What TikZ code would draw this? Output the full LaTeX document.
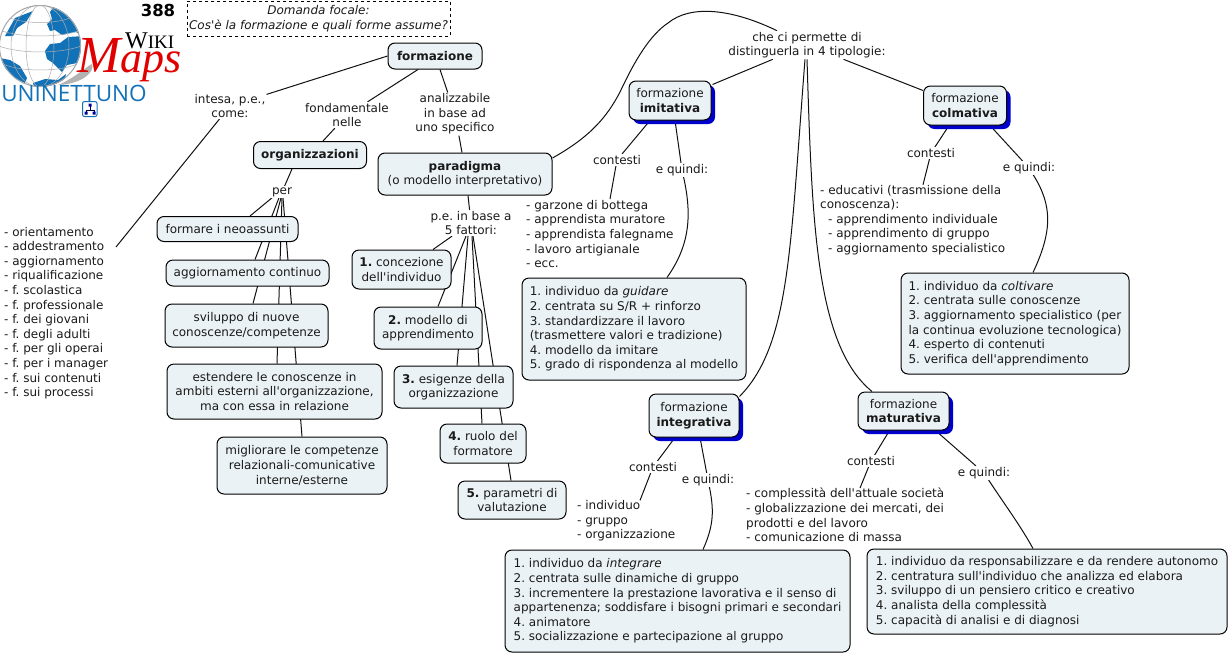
\documentclass[tikz,border=0pt]{standalone}
\usepackage{fontspec}
\setmainfont{DejaVu Sans}[Ligatures=TeXOff]
\newfontfamily\serifw{Liberation Serif}
\newfontfamily\logosans{Open Sans}
\usetikzlibrary{backgrounds,shadows}
\definecolor{boxfill}{HTML}{EBF2F5}
\definecolor{shblue}{HTML}{0000CC}
\definecolor{linkc}{HTML}{111111}
\definecolor{logoblue}{HTML}{1272B8}
\definecolor{txtc}{HTML}{1A1A1A}
\tikzset{
 every node/.style={font=\fontsize{12}{14.6}\selectfont\frenchspacing, text=txtc},
 box/.style={draw=black, line width=1pt, rounded corners=7pt, fill=boxfill, align=center, inner sep=0pt},
 lbox/.style={draw=black, line width=1pt, rounded corners=7pt, fill=boxfill, align=left, inner sep=0pt},
 tipo/.style={box, general shadow={shadow xshift=4pt, shadow yshift=-4pt, fill=shblue}},
 lab/.style={fill=white, align=center, inner sep=1pt},
 plain/.style={align=left, inner sep=0pt, anchor=west},
 link/.style={draw=linkc, line width=1pt},
}
\begin{document}
\begin{tikzpicture}[x=1pt,y=-1pt]
\useasboundingbox (0,0) rectangle (1230,654);
\begin{scope}[on background layer]
\fill[white] (0,0) rectangle (1230,654);
\end{scope}
% logo
\fill[gray!60] (58,85) .. controls (75,78) and (84,68) .. (92,64) .. controls (95,72) and (82,84) .. (58,85) -- cycle;
\begin{scope}
\clip (40,46) circle (41);
\fill[white] (0,0) rectangle (90,95);
\begin{scope}[logoblue, line join=round]
\fill (5,36) -- (15,18) -- (33,11) -- (26,22) -- (17,28) -- (13,36) -- cycle;
\fill (55,5) -- (72,12) -- (84,30) -- (84,36) -- (76,32) -- (70,33) -- (62,35) -- (55,30) -- (50,31) -- (47,24) -- (52,19) -- (50,12) -- cycle;
\fill (45,51) -- (50,44) -- (60,43) -- (68,37) -- (84,36) -- (84,58) -- (77,63) -- (67,65) -- (62,72) -- (53,63) -- (47,59) -- cycle;
\fill (0,58) -- (10,60) -- (20,66) -- (27,78) -- (25,83) -- (15,78) -- (5,68) -- cycle;
\fill (33,83) -- (45,79) -- (58,80) -- (66,74) -- (62,90) -- (35,90) -- cycle;
\end{scope}
\begin{scope}[gray!65, line width=.5pt]
\draw (40,46) ellipse (14 and 41);
\draw (40,46) ellipse (29 and 41);
\draw (-1,30) .. controls (20,38) and (60,38) .. (81,30);
\draw (-1,46) .. controls (20,54) and (60,54) .. (81,46);
\draw (3,64) .. controls (20,72) and (60,72) .. (77,64);
\draw (10,18) .. controls (25,24) and (55,24) .. (70,18);
\end{scope}
\end{scope}
\draw[gray!70, line width=1pt] (40,46) circle (40.5);
\node[inner sep=0pt, anchor=base west, text=red!88!black, font=\serifw\itshape\fontsize{52}{52}\selectfont] (maps) at (77,72) {M\fontsize{44}{44}\selectfont aps};
\node[inner sep=0pt, anchor=base west, text=black, font=\serifw\fontsize{24}{24}\selectfont] (wiki) at (125,48.5) {W\fontsize{19}{19}\selectfont IKI};
\node[inner sep=0pt, text=logoblue, font=\logosans\fontsize{22.5}{24}\selectfont] (uni) at (74,93.5) {UNINETTUNO};
\draw[logoblue, fill=white, rounded corners=2pt, line width=1pt] (82.5,101.5) rectangle (97,116.5);
\draw[black!70!blue, line width=.8pt] (90,105) -- (90,110) (86,113) -- (86,110) -- (94,110) -- (94,113);
\fill[black!40!blue] (88.5,103.5) rectangle (91.5,106.5) (84.5,111.5) rectangle (87.5,114.5) (92.5,111.5) rectangle (95.5,114.5);
% header
\node[inner sep=0pt, text=black, font=\bfseries\fontsize{16.5}{18}\selectfont] (num) at (158,10) {388};
\node[draw=black, dashed, line width=.8pt, minimum width=263pt, minimum height=35pt, inner sep=0pt, align=center, font=\itshape\fontsize{12}{14.6}\selectfont] (focal) at (318.5,18.5) {Domanda focale:\\Cos'è la formazione e quali forme assume?};
% main nodes
\node[box, minimum width=94pt, minimum height=26pt] (formazione) at (435,56) {\textbf{formazione}};
\node[lab] (intesa) at (230,106) {intesa, p.e.,\\come:};
\node[lab] (fond) at (347,115) {fondamentale\\nelle};
\node[lab] (anal) at (455,114) {analizzabile\\in base ad\\uno specifico};
\node[box, minimum width=113pt, minimum height=27pt] (org) at (310,155) {\textbf{organizzazioni}};
\node[box, minimum width=174pt, minimum height=42pt] (par) at (465,174) {\textbf{paradigma}\\(o modello interpretativo)};
\node[lab] (per) at (282,192) {per};
\node[plain] (lista) at (4,313) {- orientamento\\- addestramento\\- aggiornamento\\- riqualificazione\\- f. scolastica\\- f. professionale\\- f. dei giovani\\- f. degli adulti\\- f. per gli operai\\- f. per i manager\\- f. sui contenuti\\- f. sui processi};
\coordinate (listaend) at (116,247);
\node[box, minimum width=141pt, minimum height=25pt] (neo) at (227.5,229) {formare i neoassunti};
\node[box, minimum width=163pt, minimum height=26pt] (agg) at (247.5,273) {aggiornamento continuo};
\node[box, minimum width=163pt, minimum height=43pt] (svi) at (246.5,325.5) {sviluppo di nuove\\conoscenze/competenze};
\node[box, minimum width=215pt, minimum height=55pt] (est) at (274.5,391.5) {estendere le conoscenze in\\ambiti esterni all'organizzazione,\\ma con essa in relazione};
\node[box, minimum width=170pt, minimum height=57pt] (mig) at (302,465.5) {migliorare le competenze\\relazionali-comunicative\\interne/esterne};
\node[lab] (pe) at (471,223) {p.e. in base a\\5 fattori:};
\node[box, minimum width=99pt, minimum height=39pt] (f1) at (401.5,269.5) {\textbf{1.} concezione\\dell'individuo};
\node[box, minimum width=108pt, minimum height=42pt] (f2) at (428,328) {\textbf{2.} modello di\\apprendimento};
\node[box, minimum width=119pt, minimum height=42pt] (f3) at (453.5,387) {\textbf{3.} esigenze della\\organizzazione};
\node[box, minimum width=86pt, minimum height=39pt] (f4) at (483,443.5) {\textbf{4.} ruolo del\\formatore};
\node[box, minimum width=108pt, minimum height=38pt] (f5) at (512,500) {\textbf{5.} parametri di\\valutazione};
\node[lab] (che) at (807,45) {che ci permette di\\distinguerla in 4 tipologie:};
% imitativa
\node[tipo, minimum width=82pt, minimum height=39pt] (imi) at (670,100.5) {formazione\\\textbf{imitativa}};
\node[lab] (imic) at (617,160) {contesti};
\node[lab] (imiq) at (682,170) {e quindi:};
\node[plain] (imit) at (526,234) {- garzone di bottega\\- apprendista muratore\\- apprendista falegname\\- lavoro artigianale\\- ecc.};
\node[lbox, minimum width=224pt, minimum height=102pt] (imib) at (634,329) {1. individuo da \textit{guidare}\\2. centrata su S/R + rinforzo\\3. standardizzare il lavoro\\(trasmettere valori e tradizione)\\4. modello da imitare\\5. grado di rispondenza al modello};
% colmativa
\node[tipo, minimum width=83pt, minimum height=39pt] (col) at (965,105.5) {formazione\\\textbf{colmativa}};
\node[lab] (colc) at (931,153) {contesti};
\node[lab] (colq) at (1029,168) {e quindi:};
\node[plain] (colt) at (820,220) {- educativi (trasmissione della\\conoscenza):\\\hspace*{8pt}- apprendimento individuale\\\hspace*{8pt}- apprendimento di gruppo\\\hspace*{8pt}- aggiornamento specialistico};
\node[lbox, minimum width=228pt, minimum height=101pt] (colb) at (1015,323.5) {1. individuo da \textit{coltivare}\\2. centrata sulle conoscenze\\3. aggiornamento specialistico (per\\la continua evoluzione tecnologica)\\4. esperto di contenuti\\5. verifica dell'apprendimento};
% integrativa
\node[tipo, minimum width=90pt, minimum height=43pt] (int) at (694,415.5) {formazione\\\textbf{integrativa}};
\node[lab] (intc) at (653,467) {contesti};
\node[lab] (intq) at (708,480) {e quindi:};
\node[plain] (intt) at (577,521) {- individuo\\- gruppo\\- organizzazione};
\node[lbox, minimum width=345pt, minimum height=102pt] (intb) at (677.5,601) {1. individuo da \textit{integrare}\\2. centrata sulle dinamiche di gruppo\\3. incrementere la prestazione lavorativa e il senso di\\appartenenza; soddisfare i bisogni primari e secondari\\4. animatore\\5. socializzazione e partecipazione al gruppo};
% maturativa
\node[tipo, minimum width=91pt, minimum height=38pt] (mat) at (903.5,411) {formazione\\\textbf{maturativa}};
\node[lab] (matc) at (871,461) {contesti};
\node[lab] (matq) at (984,473) {e quindi:};
\node[plain] (matt) at (746,515) {- complessità dell'attuale società\\- globalizzazione dei mercati, dei\\prodotti e del lavoro\\- comunicazione di massa};
\node[lbox, minimum width=360pt, minimum height=85pt] (matb) at (1047,591.5) {1. individuo da responsabilizzare e da rendere autonomo\\2. centratura sull'individuo che analizza ed elabora\\3. sviluppo di un pensiero critico e creativo\\4. analista della complessità\\5. capacità di analisi e di diagnosi};
% connectors
\begin{scope}[on background layer]
\draw[link] (formazione.west) -- (intesa);
\draw[link] ([xshift=-17pt]formazione.south) -- (fond);
\draw[link] ([xshift=5pt]formazione.south) -- (anal);
\draw[link] (fond) -- ([xshift=13pt]org.north);
\draw[link] (anal) -- ([xshift=-3pt]par.north);
\draw[link] (intesa) -- (listaend);
\draw[link] ([xshift=-18pt]org.south) -- (per);
\draw[link] ([xshift=-10pt]per.south) -- ([xshift=22.5pt]neo.north);
\draw[link] ([xshift=-3pt]per.south) -- ([xshift=7.5pt]agg.north);
\draw[link] ([xshift=-1pt]per.south) -- ([xshift=6.5pt]svi.north);
\draw[link] (per.south) -- ([xshift=2.5pt]est.north);
\draw[link] ([xshift=1pt]per.south) -- (mig.north);
\draw[link] ([xshift=3pt]par.south) -- (pe);
\draw[link] ([xshift=-19pt]pe.south) -- ([xshift=31.5pt]f1.north);
\draw[link] ([xshift=-5pt]pe.south) -- ([xshift=10pt]f2.north);
\draw[link] ([xshift=-3pt]pe.south) -- ([xshift=3.5pt]f3.north);
\draw[link] ([xshift=1pt]pe.south) -- ([xshift=-1pt]f4.north);
\draw[link] ([xshift=2pt]pe.south) -- ([xshift=-1pt]f5.north);
\draw[link] ([yshift=16pt]par.east) .. controls (590,137) and (607,117) .. (620,92) .. controls (635,60) and (650,35) .. (668,23) .. controls (690,5) and (730,8) .. ([xshift=-30pt]che.north);
\draw[link] (che) -- ([xshift=1pt,yshift=-4pt]imi.north east);
\draw[link] (che) -- ([yshift=-5pt]col.north west);
\draw[link] ([xshift=-2pt]che.south) .. controls (790,250) and (790,345) .. ([yshift=-3pt]int.north east);
\draw[link] (che.south) .. controls (812,220) and (815,345) .. ([xshift=-31.5pt]mat.north);
\draw[link] ([xshift=-20pt]imi.south) -- (imic);
\draw[link] (imic) -- ([xshift=84pt,yshift=1pt]imit.north west);
\draw[link] ([xshift=5pt]imi.south) -- (imiq);
\draw[link] (imiq) .. controls (692,215) and (690,245) .. ([xshift=33pt]imib.north);
\draw[link] ([xshift=-16pt]col.south) -- (colc);
\draw[link] (colc) -- ([xshift=103pt]colt.north west);
\draw[link] ([xshift=25pt]col.south) -- (colq);
\draw[link] (colq) .. controls (1052,205) and (1053,230) .. ([xshift=18pt]colb.north);
\draw[link] ([xshift=-19pt]int.south) -- (intc);
\draw[link] (intc) -- ([xshift=63pt]intt.north west);
\draw[link] ([xshift=6pt]int.south) -- (intq);
\draw[link] (intq) .. controls (714,510) and (714,525) .. ([xshift=25.5pt]intb.north);
\draw[link] ([xshift=-14pt]mat.south) -- (matc);
\draw[link] (matc) -- ([xshift=114pt]matt.north west);
\draw[link] ([xshift=32pt]mat.south) -- (matq);
\draw[link] (matq) .. controls (1005,505) and (1020,525) .. ([xshift=-14pt]matb.north);
\end{scope}
\end{tikzpicture}
\end{document}
